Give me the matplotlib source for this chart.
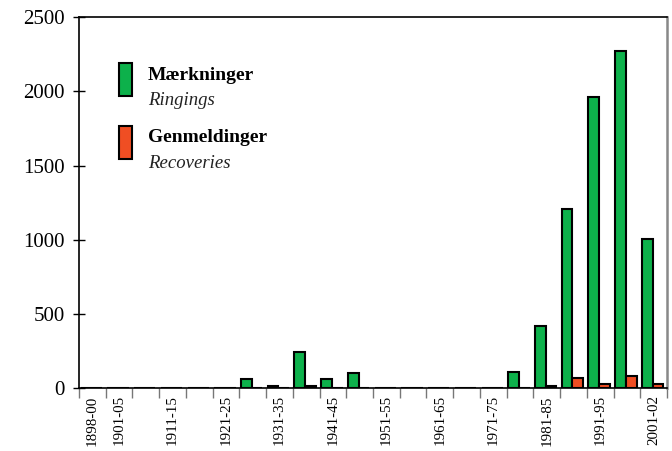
import numpy as np
import matplotlib
matplotlib.use("Agg")
import matplotlib.pyplot as plt
from matplotlib.patches import Rectangle

# Five-year periods 1898-2002
periods = ["1898-00", "1901-05", "1906-10", "1911-15", "1916-20", "1921-25",
           "1926-30", "1931-35", "1936-40", "1941-45", "1946-50", "1951-55",
           "1956-60", "1961-65", "1966-70", "1971-75", "1976-80", "1981-85",
           "1986-90", "1991-95", "1996-00", "2001-02"]
shown_labels = ["1898-00", "1901-05", "1911-15", "1921-25", "1931-35", "1941-45",
                "1951-55", "1961-65", "1971-75", "1981-85", "1991-95", "2001-02"]

ringings = [0, 0, 0, 0, 0, 0, 60, 15, 245, 60, 100, 0,
            0, 0, 0, 0, 110, 420, 1210, 1960, 2270, 1005]
recoveries = [0, 0, 0, 0, 0, 0, 0, 0, 15, 0, 0, 0,
              0, 0, 0, 0, 0, 15, 70, 30, 85, 30]

GREEN = "#0db14b"
RED = "#f04e23"

plt.rcParams["font.family"] = ["Liberation Serif", "DejaVu Serif"]

fig = plt.figure(figsize=(6.72, 4.51), dpi=100)
ax = fig.add_axes([0.1176, 0.139, 0.8750, 0.823])

x = np.arange(len(periods))
w = 0.40
ax.bar(x + 0.06, ringings, width=w, align="edge", color=GREEN,
       edgecolor="black", linewidth=1.5, zorder=3)
ax.bar(x + 0.06 + w, recoveries, width=w, align="edge", color=RED,
       edgecolor="black", linewidth=1.5, zorder=3)

ax.set_xlim(0, len(periods))
ax.set_ylim(0, 2500)
ax.set_yticks([0, 500, 1000, 1500, 2000, 2500])
ax.tick_params(axis="y", direction="inout", length=9, width=1, labelsize=15, pad=6)

# category boundaries as ticks, labels at category centres
ax.set_xticks(np.arange(len(periods) + 1))
ax.set_xticklabels([])
ax.tick_params(axis="x", which="major", direction="out", length=7, width=1,
               color="#777777")
ax.set_xticks(x + 0.5, minor=True)
ax.set_xticklabels([p if p in shown_labels else "" for p in periods], minor=True,
                   rotation=90, fontsize=10.8)
ax.tick_params(axis="x", which="minor", length=0, pad=5)

for side in ["left", "bottom", "top"]:
    ax.spines[side].set_color("black")
    ax.spines[side].set_linewidth(1.2)
ax.spines["right"].set_color("#888888")
ax.spines["right"].set_linewidth(1.8)

# legend drawn by hand (colour swatch + two-line caption)
W, H = 672, 451


def legend_entry(px, py, color, title, subtitle):
    fig.patches.append(Rectangle((px / W, 1 - (py + 33) / H), 13 / W, 33 / H,
                                 transform=fig.transFigure, facecolor=color,
                                 edgecolor="black", linewidth=1.5))
    fig.text((px + 29) / W, 1 - (py + 12) / H, title, fontsize=14,
             fontweight="bold", va="center", ha="left")
    fig.text((px + 29) / W, 1 - (py + 38) / H, subtitle, fontsize=13.5,
             style="italic", va="center", ha="left", color="#222222")


legend_entry(119, 63, GREEN, "Mærkninger", "Ringings")
legend_entry(119, 126, RED, "Genmeldinger", "Recoveries")

fig.savefig("out.png", dpi=100)
